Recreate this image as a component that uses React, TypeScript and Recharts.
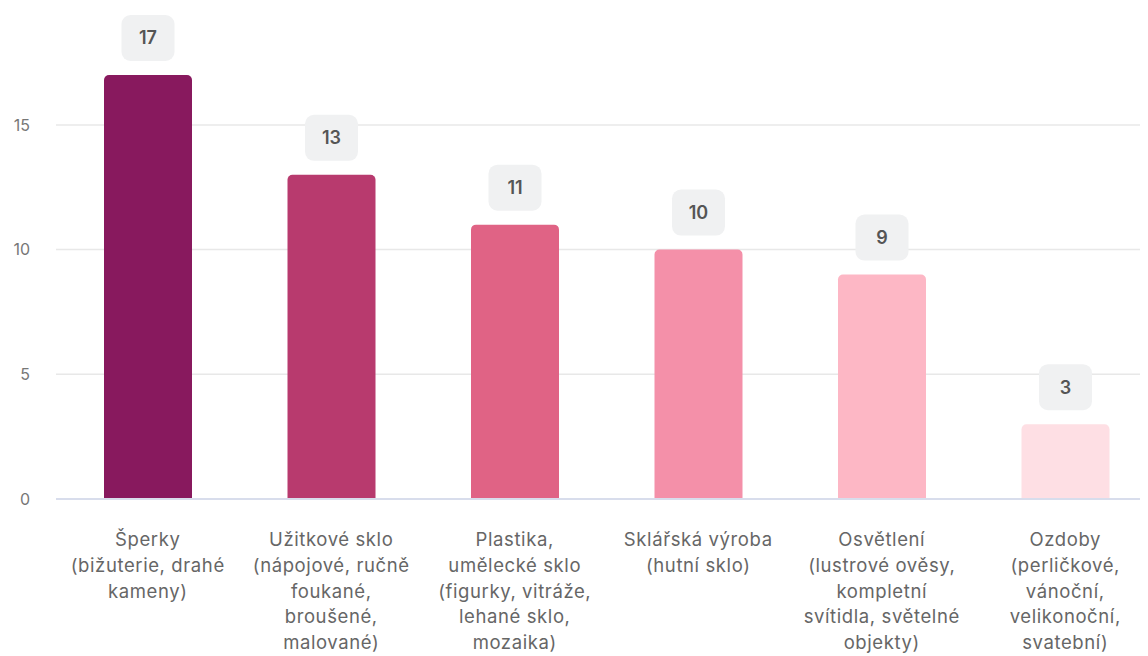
import { BarChart, Bar, XAxis, YAxis, CartesianGrid, Cell, LabelList } from "recharts";

const categories = [
  "Šperky\n(bižuterie, drahé\nkameny)",
  "Užitkové sklo\n(nápojové, ručně\nfoukané,\nbroušené,\nmalované)",
  "Plastika,\numělecké sklo\n(figurky, vitráže,\nlehané sklo,\nmozaika)",
  "Sklářská výroba\n(hutní sklo)",
  "Osvětlení\n(lustrové ověsy,\nkompletní\nsvítidla, světelné\nobjekty)",
  "Ozdoby\n(perličkové,\nvánoční,\nvelikonoční,\nsvatební)",
];
const counts = [17, 13, 11, 10, 9, 3];
const barColors = ["#88195E", "#B83A6E", "#E06385", "#F490A9", "#FDB7C5", "#FEDFE4"];
const yTicks = [0, 5, 10, 15];

const data = categories.map((name, i) => ({ name, value: counts[i] }));

const CategoryTick = (props: any) => {
  const { x, y, payload } = props;
  const lines = String(payload.value).split("\n");
  return (
    <text
      x={x}
      y={y}
      textAnchor="middle"
      fill="#666666"
      fontSize={18.5}
      letterSpacing={0.6}
      fontFamily="Inter"
    >
      {lines.map((line, i) => (
        <tspan key={i} x={x} y={y + 47 + i * 25.8}>
          {line}
        </tspan>
      ))}
    </text>
  );
};

const ValueBadge = (props: any) => {
  const { x, y, width, value } = props;
  const cx = x + width / 2;
  const w = 53;
  const h = 46;
  const top = y - 14 - h;
  return (
    <g>
      <rect x={cx - w / 2} y={top} width={w} height={h} rx={9} fill="#F0F1F2" />
      <text
        x={cx}
        y={top + h / 2}
        dy="0.36em"
        textAnchor="middle"
        fill="#555555"
        fontSize={18}
        fontWeight={600}
        fontFamily="Inter"
      >
        {value}
      </text>
    </g>
  );
};

export default function App() {
  return (
    <div style={{ width: 1140, height: 648, overflow: "hidden" }}>
      <BarChart
        width={1150}
        height={648}
        data={data}
        margin={{ top: 67, right: 1, bottom: 7, left: 0 }}
      >
        <CartesianGrid
          vertical={false}
          horizontalValues={yTicks}
          stroke="#E8E8E8"
          strokeWidth={1.5}
        />
        <XAxis
          dataKey="name"
          interval={0}
          height={150}
          tickLine={false}
          tickSize={0}
          tickMargin={0}
          axisLine={{ stroke: "#D8DDEC", strokeWidth: 2 }}
          tick={<CategoryTick />}
        />
        <YAxis
          width={48}
          domain={[0, 17]}
          ticks={yTicks}
          axisLine={false}
          tickLine={false}
          tickSize={0}
          tickMargin={26}
          tick={{ fill: "#777777", fontSize: 16, fontFamily: "Inter" }}
        />
        <Bar dataKey="value" barSize={88} radius={[5, 5, 0, 0]} isAnimationActive={false}>
          {data.map((d, i) => (
            <Cell key={d.name} fill={barColors[i]} />
          ))}
          <LabelList dataKey="value" content={<ValueBadge />} />
        </Bar>
      </BarChart>
    </div>
  );
}
